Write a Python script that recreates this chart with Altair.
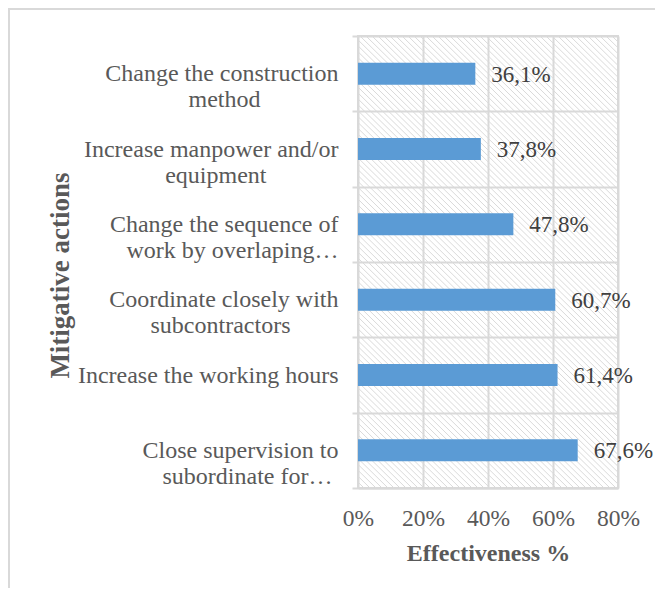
import altair as alt
import pandas as pd

# ---- data ----
actions = [
    "Change the construction|method",
    "Increase manpower and/or|equipment",
    "Change the sequence of|work by overlaping…",
    "Coordinate closely with|subcontractors",
    "Increase the working hours",
    "Close supervision to|subordinate for…",
]
effectiveness = [36.1, 37.8, 47.8, 60.7, 61.4, 67.6]
x_ticks = [0, 20, 40, 60, 80]

# style: non-breaking spaces after the 2nd label line so that it sits centred
second_line_pad = [13, 12, 0, 8, 0, 1]
display = [a + ("\u00a0" * p + "\u200b" if p else "")
           for a, p in zip(actions, second_line_pad)]

df = pd.DataFrame({"action": display, "eff": effectiveness})

W, H = 260, 452
GRID = "#d9d9d9"
TXT = "#595959"
FONT = "Liberation Serif"

# decorative hatch of the plot area (generated pattern)
hatch = (
    alt.Chart(alt.sequence(0, 130, 1, as_="i"))
    .transform_calculate(xa="datum.i * 6 - 460", xb="datum.i * 6")
    .mark_rule(clip=True, stroke="#dadada", strokeWidth=1)
    .encode(
        x=alt.X("xa:Q", scale=None, axis=None),
        x2="xb:Q",
        y=alt.value(0),
        y2=alt.value(H),
    )
)

base = alt.Chart(df)

y_enc = alt.Y(
    "action:N",
    sort=display,
    scale=alt.Scale(paddingInner=0, paddingOuter=0),
    axis=alt.Axis(
        title="Mitigative actions",
        titleFont=FONT,
        titleFontSize=27,
        titleFontWeight="bold",
        titleColor=TXT,
        titleAngle=-90,
        titleAlign="center",
        titleBaseline="alphabetic",
        titleX=-290,
        titleY=239,
        labelExpr="split(datum.label, '|')",
        labelFont=FONT,
        labelFontSize=24,
        labelColor=TXT,
        labelLineHeight=26,
        labelAlign="right",
        labelBaseline="middle",
        labelPadding=14,
        labelLimit=400,
        tickBand="extent",
        ticks=True,
        tickSize=6,
        tickColor=GRID,
        tickWidth=2,
        grid=True,
        gridColor=GRID,
        gridWidth=2,
        domain=False,
    ),
)

x_enc = alt.X(
    "eff:Q",
    scale=alt.Scale(domain=[0, 80], nice=False),
    axis=alt.Axis(
        values=x_ticks,
        labelExpr="datum.value + '%'",
        labelFlush=False,
        labelOverlap=False,
        title="Effectiveness %",
        titleFont=FONT,
        titleFontSize=24,
        titleFontWeight="bold",
        titleColor=TXT,
        titleBaseline="alphabetic",
        titleY=72,
        labelFont=FONT,
        labelFontSize=23.5,
        labelColor=TXT,
        labelPadding=18,
        ticks=False,
        grid=True,
        gridColor=GRID,
        gridWidth=2,
        domain=True,
        domainColor=GRID,
        domainWidth=2,
    ),
)

bars = base.mark_bar(color="#5b9bd5", size=22).encode(x=x_enc, y=y_enc)

labels = (
    base.transform_calculate(
        lbl="replace(format(datum.eff, '.1f'), '.', ',') + '%'"
    )
    .mark_text(align="left", baseline="middle", dx=16, dy=1, font=FONT,
               fontSize=23, color="#404040")
    .encode(x="eff:Q", y=alt.Y("action:N", sort=display), text="lbl:N")
)

frame_v = (
    alt.Chart(alt.Data(values=[{"k": 1}]))
    .mark_rule(stroke=GRID, strokeWidth=2)
    .encode(x=alt.value(-349), y=alt.value(-27), y2=alt.value(700))
)
frame_h = (
    alt.Chart(alt.Data(values=[{"k": 1}]))
    .mark_rule(stroke=GRID, strokeWidth=2)
    .encode(x=alt.value(-350), x2=alt.value(500), y=alt.value(-27))
)

chart = (
    alt.layer(hatch, bars, labels, frame_v, frame_h)
    .properties(
        width=W,
        height=H,
        autosize=alt.AutoSizeParams(type="none"),
        padding={"left": 350, "top": 28, "right": 37, "bottom": 100},
        background="white",
    )
    .configure_view(stroke=GRID, strokeWidth=2)
)

chart.save("out.html", embed_options={"renderer": "svg", "actions": False})
